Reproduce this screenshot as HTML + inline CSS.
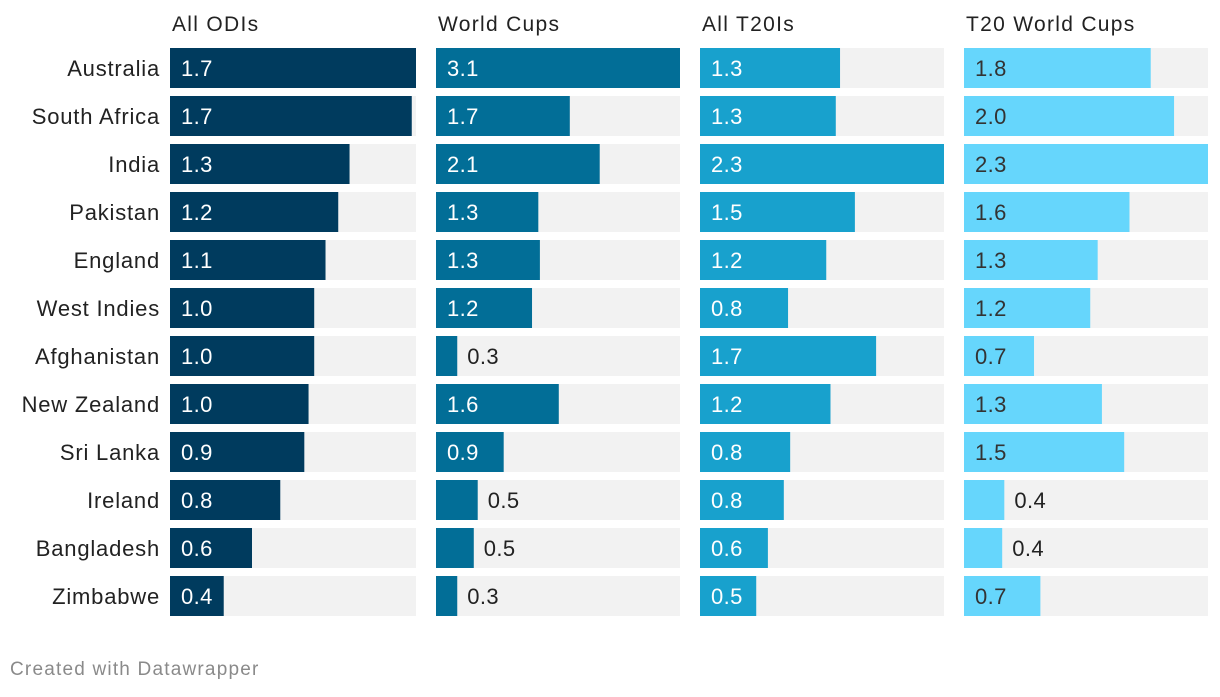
<!DOCTYPE html>
<html><head><meta charset="utf-8"><style>
body{margin:0;background:#fff;font-family:"Liberation Sans",sans-serif;}
svg text{font-family:"Liberation Sans",sans-serif;}
</style></head><body>
<svg id="chart" width="1220" height="692" xmlns="http://www.w3.org/2000/svg">
<text x="10" y="675" font-size="19" letter-spacing="1.2" fill="#8a8a8a">Created with Datawrapper</text>
</svg>
<script>
const countries=["Australia","South Africa","India","Pakistan","England","West Indies","Afghanistan","New Zealand","Sri Lanka","Ireland","Bangladesh","Zimbabwe"];
const panelTitles=["All ODIs","World Cups","All T20Is","T20 World Cups"];
const odiValues=[1.74,1.71,1.27,1.19,1.10,1.02,1.02,0.98,0.95,0.78,0.58,0.38];
const wcValues=[3.1,1.70,2.08,1.30,1.32,1.22,0.27,1.56,0.86,0.53,0.48,0.27];
const t20Values=[1.32,1.28,2.3,1.46,1.19,0.83,1.66,1.23,0.85,0.79,0.64,0.53];
const t20wcValues=[1.76,1.98,2.3,1.56,1.26,1.19,0.66,1.30,1.51,0.38,0.36,0.72];
const series=[odiValues,wcValues,t20Values,t20wcValues];
const colors=["#003b5e","#026e97","#18a1cd","#66d6fc"];
const insideText=["#fff","#fff","#fff","#333"];
const panelX=[170,436,700,964], panelW=[246,244,244,244];
const svg=document.getElementById('chart');
const NS="http://www.w3.org/2000/svg";
function mk(t,a){const e=document.createElementNS(NS,t);for(const k in a)e.setAttribute(k,a[k]);svg.appendChild(e);return e;}
function yPos(i){return 48+i*48;}
countries.forEach((c,i)=>{
  const t=mk('text',{x:160,y:yPos(i)+28,'text-anchor':'end','font-size':22,'letter-spacing':0.8,fill:'#222'});
  t.textContent=c;
  
  
});
series.forEach((vals,p)=>{
  const max=Math.max(...vals);
  const xs=v=>v/max*panelW[p];
  const h=mk('text',{x:panelX[p]+2,y:31,'font-size':21,'letter-spacing':1.3,fill:'#222'});
  h.textContent=panelTitles[p];
  
  
  vals.forEach((v,i)=>{
    const bg=mk('rect',{x:panelX[p],y:yPos(i),width:panelW[p],height:40,fill:'#f2f2f2'});
    
    
    const w=xs(v);
    const b=mk('rect',{x:panelX[p],y:yPos(i),width:w,height:40,fill:colors[p]});
    
    
    const inside=w>50;
    const l=mk('text',{x:inside?panelX[p]+11:panelX[p]+w+10,y:yPos(i)+28,'font-size':22,'letter-spacing':0.4,fill:inside?insideText[p]:'#222'});
    l.textContent=v.toFixed(1);
    
    
  });
});
</script>
</body></html>
